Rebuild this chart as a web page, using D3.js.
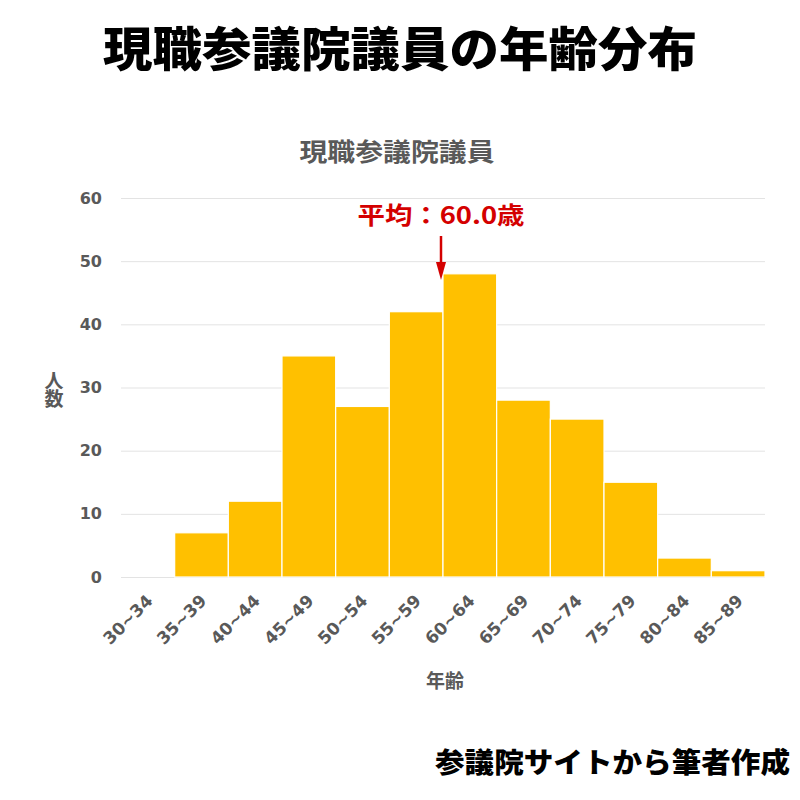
<!DOCTYPE html>
<html><head><meta charset="utf-8">
<script src="https://cdn.jsdelivr.net/npm/d3@7"></script>
<style>body{margin:0;background:#fff}svg{display:block}text{font-family:"Noto Sans CJK JP","Noto Sans",sans-serif}</style>
</head><body>
<script>
const categories = ["30~34","35~39","40~44","45~49","50~54","55~59","60~64","65~69","70~74","75~79","80~84","85~89"];
const counts = [0,7,12,35,27,42,48,28,25,15,3,1];
const yTicks = [0,10,20,30,40,50,60];
const meanAge = 60.0;
const meanLabel = "平均：60.0歳";

const W=800,H=800;
const svg=d3.select("body").append("svg").attr("width",W).attr("height",H);
const m={left:121,right:765,top:198,bottom:577};
const x=d3.scaleBand().domain(categories).range([m.left,m.right]).padding(0);
const y=d3.scaleLinear().domain([0,60]).range([m.bottom,m.top]);

// title
svg.append("text").attr("x",400).attr("y",66).attr("text-anchor","middle")
  .attr("font-size",47).attr("font-weight",900).attr("fill","#000")
  .attr("textLength",594).attr("lengthAdjust","spacingAndGlyphs")
  .text("現職参議院議員の年齢分布");
svg.append("text").attr("x",397).attr("y",161).attr("text-anchor","middle")
  .attr("font-size",25).attr("font-weight",700).attr("fill","#595959")
  .attr("textLength",195).attr("lengthAdjust","spacingAndGlyphs")
  .text("現職参議院議員");

// grid
const yAxis=d3.axisLeft(y).tickValues(yTicks).tickSize(-(m.right-m.left)).tickPadding(19);
const gy=svg.append("g").attr("transform",`translate(${m.left},0)`).call(yAxis);
gy.select(".domain").remove();
gy.selectAll(".tick line").attr("stroke","#e3e3e3").attr("stroke-width",1);
gy.selectAll(".tick text").attr("font-size",16).attr("font-weight",700).attr("fill","#595959")
  .style("font-family","'DejaVu Sans',sans-serif");

// bars
svg.append("g").selectAll("rect").data(categories).join("rect")
  .attr("x",d=>x(d)).attr("width",x.bandwidth())
  .attr("y",(d,i)=>y(counts[i])).attr("height",(d,i)=>y(0)-y(counts[i]))
  .attr("fill","#FFC000").attr("stroke","#fff").attr("stroke-width",1.2);

// x axis labels
const xAxis=d3.axisBottom(x).tickSize(0).tickPadding(0);
const gx=svg.append("g").attr("transform",`translate(0,${m.bottom})`).call(xAxis);
gx.select(".domain").remove();
gx.selectAll(".tick text").attr("font-size",17).attr("font-weight",700).attr("fill","#595959")
  .style("font-family","'DejaVu Sans',sans-serif")
  .attr("text-anchor","end").attr("dy",0).attr("transform","translate(6,25) rotate(-45)");

// axis titles
svg.append("text").attr("x",445).attr("y",688).attr("text-anchor","middle")
  .attr("font-size",19).attr("font-weight",700).attr("fill","#595959").text("年齢");
svg.append("text").attr("x",54).attr("y",371)
  .style("writing-mode","vertical-rl").attr("letter-spacing",-1)
  .attr("font-size",19).attr("font-weight",700).attr("fill","#595959").text("人数");

// mean annotation
const xs=d3.scaleLinear().domain([30,90]).range([m.left,m.right]);
const mx=xs(meanAge)-2;
svg.append("line").attr("x1",mx).attr("x2",mx).attr("y1",236).attr("y2",262)
  .attr("stroke","#d40000").attr("stroke-width",2.5);
svg.append("path").attr("d",`M${mx-5},${262} L${mx+5},${262} L${mx},${280} Z`).attr("fill","#d40000");
svg.append("text").attr("x",441).attr("y",224).attr("text-anchor","middle")
  .attr("font-size",24).attr("font-weight",700).attr("fill","#d40000")
  .attr("textLength",167).attr("lengthAdjust","spacingAndGlyphs").text(meanLabel);

// source
svg.append("text").attr("x",790).attr("y",773).attr("text-anchor","end")
  .attr("font-size",28).attr("font-weight",900).attr("fill","#000")
  .attr("textLength",355).attr("lengthAdjust","spacingAndGlyphs").text("参議院サイトから筆者作成");
</script>
</body></html>
